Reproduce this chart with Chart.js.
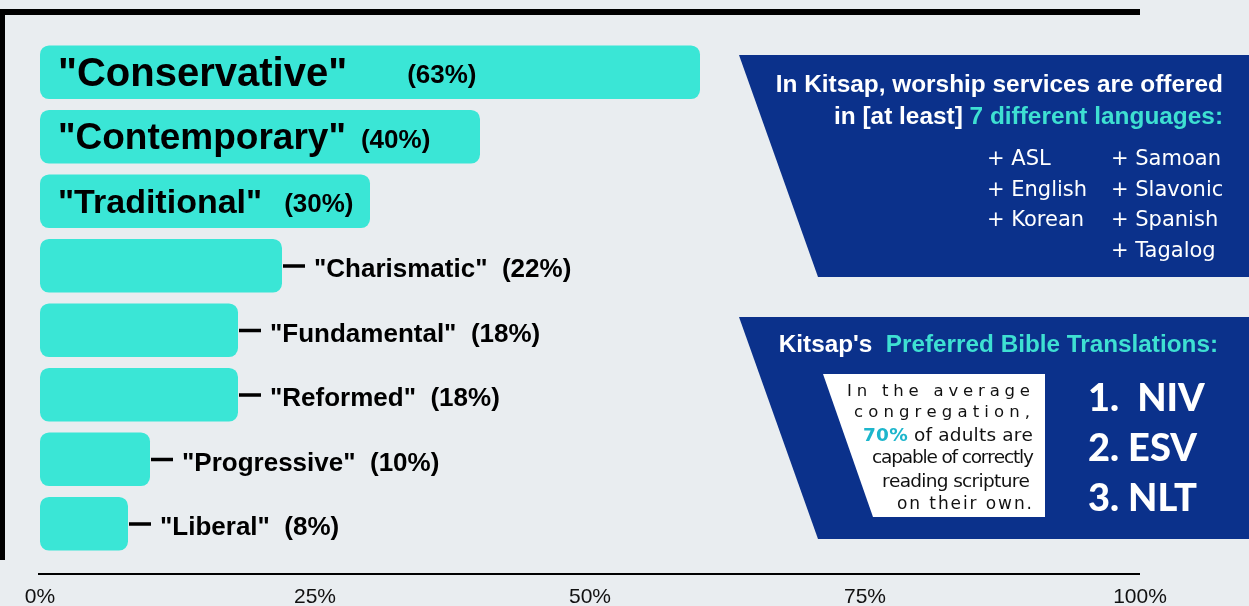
<!DOCTYPE html>
<html>
<head>
<meta charset="utf-8">
<script src="https://cdn.jsdelivr.net/npm/chart.js@4.4.1/dist/chart.umd.min.js"></script>
<style>
  html, body { margin: 0; padding: 0; background: #e9edf0; }
  canvas { display: block; }
</style>
</head>
<body>
<canvas id="styles-chart" width="1249" height="606"></canvas>
<script>
// ── DATA ──────────────────────────────────
const categories = ['"Conservative"', '"Contemporary"', '"Traditional"', '"Charismatic"',
                    '"Fundamental"', '"Reformed"', '"Progressive"', '"Liberal"'];
const barValues = [60, 40, 30, 22, 18, 18, 10, 8];
const pctLabels = ['(63%)', '(40%)', '(30%)', '(22%)', '(18%)', '(18%)', '(10%)', '(8%)'];
const xTicks = [0, 25, 50, 75, 100];

const languagesLeft = ['+ ASL', '+ English', '+ Korean'];
const languagesRight = ['+ Samoan', '+ Slavonic', '+ Spanish', '+ Tagalog'];
const translations = ['1.  NIV', '2. ESV', '3. NLT'];
const literacyLines = ['In the average', 'congregation,', '70% of adults are',
                       'capable of correctly', 'reading scripture', 'on their own.'];
const literacyHighlight = '70%';

// ── STYLE ─────────────────────────────────
const BG = '#e9edf0';
const BAR = '#3ae6d6';
const NAVY = '#0b318b';
const TEAL = '#3ee0d2';
const TEAL_DARK = '#1db6cc';
const SANS = '"Liberation Sans", Arial, sans-serif';
const WIDE = '"DejaVu Sans", "Open Sans", sans-serif';

// first three bars carry their label inside the bar
const insideLabels = [
  { size: 40, gap: 60 },
  { size: 37, gap: 15 },
  { size: 34, gap: 22 }
];

// justified lines of the white box: [left, right, baseline, font size]
const literacyLayout = [
  [847, 1030, 396, 16.5],
  [854, 1030, 417, 16.5],
  [863, 1033, 441, 18.5],
  [872, 1034, 463, 18.5],
  [882, 1030, 487, 18.5],
  [897, 1032, 509, 17]
];


// ── HELPERS ───────────────────────────────
function slantedPanel(ctx, top, bottom, leftTop, leftBottom, right, color) {
  ctx.fillStyle = color;
  ctx.beginPath();
  ctx.moveTo(leftTop, top);
  ctx.lineTo(right, top);
  ctx.lineTo(right, bottom);
  ctx.lineTo(leftBottom, bottom);
  ctx.closePath();
  ctx.fill();
}

// draw runs of text stretched (or squeezed) to fill left..right
function justifiedLine(ctx, runs, left, right, y) {
  const chars = [];
  runs.forEach(r => {
    ctx.font = r.font;
    for (const ch of r.text) chars.push({ ch, font: r.font, color: r.color, w: ctx.measureText(ch).width });
  });
  const natural = chars.reduce((a, c) => a + c.w, 0);
  const spacing = (right - left - natural) / (chars.length - 1);
  let x = left;
  ctx.textAlign = 'left';
  ctx.textBaseline = 'alphabetic';
  chars.forEach(c => {
    ctx.font = c.font;
    ctx.fillStyle = c.color;
    ctx.fillText(c.ch, x, y);
    x += c.w + spacing;
  });
}

function rightAlignedRuns(ctx, runs, right, y) {
  let x = right;
  ctx.textAlign = 'right';
  ctx.textBaseline = 'alphabetic';
  for (let i = runs.length - 1; i >= 0; i--) {
    ctx.font = runs[i].font;
    ctx.fillStyle = runs[i].color;
    ctx.fillText(runs[i].text, x, y);
    x -= ctx.measureText(runs[i].text).width;
  }
}


// ── PLUGIN: FRAME + BACKGROUND ────────────
const framePlugin = {
  id: 'frame',
  beforeDraw(chart) {
    const ctx = chart.ctx;
    ctx.save();
    ctx.fillStyle = BG;
    ctx.fillRect(0, 0, chart.width, chart.height);
    ctx.fillStyle = '#000';
    ctx.fillRect(0, 9, 1140, 6);
    ctx.fillRect(0, 9, 5, 551);
    ctx.restore();
  }
};


// ── PLUGIN: BAR LABELS + AXIS LINE ────────
const barLabelPlugin = {
  id: 'barLabels',
  afterDatasetsDraw(chart) {
    const ctx = chart.ctx;
    const meta = chart.getDatasetMeta(0);
    const xs = chart.scales.x;
    ctx.save();

    // axis baseline sits a little below the bars
    ctx.fillStyle = '#000';
    const axisY = chart.chartArea.bottom + 17;
    ctx.fillRect(xs.getPixelForValue(0) - 2, axisY, xs.getPixelForValue(100) - xs.getPixelForValue(0) + 2, 2);

    meta.data.forEach((bar, i) => {
      ctx.fillStyle = '#000';
      ctx.textAlign = 'left';
      ctx.textBaseline = 'alphabetic';
      if (i < insideLabels.length) {
        const st = insideLabels[i];
        const x0 = bar.base + 18;
        ctx.font = `bold ${st.size}px ${SANS}`;
        ctx.fillText(categories[i], x0, bar.y + st.size * 0.34);
        const nameW = ctx.measureText(categories[i]).width;
        ctx.font = `bold 26px ${SANS}`;
        ctx.fillText(pctLabels[i], x0 + nameW + st.gap, bar.y + 26 * 0.42);
      } else {
        ctx.fillRect(bar.x + 1, bar.y - 1.5, 22, 3.5);
        ctx.font = `bold 26px ${SANS}`;
        ctx.fillText(categories[i] + '  ' + pctLabels[i], bar.x + 32, bar.y + 26 * 0.44);
      }
    });
    ctx.restore();
  }
};


// ── PLUGIN: SIDE PANELS ───────────────────
const panelPlugin = {
  id: 'panels',
  afterDraw(chart) {
    const ctx = chart.ctx;
    const W = chart.width;
    ctx.save();

    // panel 1: languages
    slantedPanel(ctx, 55, 277, 739, 818, W, NAVY);
    ctx.font = `bold 24.4px ${SANS}`;
    ctx.fillStyle = '#fff';
    ctx.textAlign = 'right';
    ctx.fillText('In Kitsap, worship services are offered', 1223, 92);
    rightAlignedRuns(ctx, [
      { text: 'in [at least] ', font: `bold 24.4px ${SANS}`, color: '#fff' },
      { text: '7 different languages:', font: `bold 24.4px ${SANS}`, color: TEAL }
    ], 1223, 124);

    ctx.font = `21px ${WIDE}`;
    ctx.fillStyle = '#fff';
    ctx.textAlign = 'left';
    languagesLeft.forEach((t, i) => ctx.fillText(t, 987, 165 + i * 30.7));
    languagesRight.forEach((t, i) => ctx.fillText(t, 1111, 165 + i * 30.7));

    // panel 2: bible translations
    slantedPanel(ctx, 317, 539, 739, 818, W, NAVY);
    rightAlignedRuns(ctx, [
      { text: "Kitsap's  ", font: `bold 24.3px ${SANS}`, color: '#fff' },
      { text: 'Preferred Bible Translations:', font: `bold 24.3px ${SANS}`, color: TEAL }
    ], 1218, 352);

    slantedPanel(ctx, 374, 517, 823, 873, 1045, '#fff');
    literacyLines.forEach((line, i) => {
      const [left, right, y, size] = literacyLayout[i];
      const runs = [];
      if (line.startsWith(literacyHighlight)) {
        runs.push({ text: literacyHighlight, font: `bold ${size}px ${WIDE}`, color: TEAL_DARK });
        runs.push({ text: line.slice(literacyHighlight.length), font: `${size}px ${WIDE}`, color: '#111' });
      } else {
        runs.push({ text: line, font: `${size}px ${WIDE}`, color: '#111' });
      }
      justifiedLine(ctx, runs, left, right, y);
    });

    ctx.font = `900 38px Lato, ${SANS}`;
    ctx.fillStyle = '#fff';
    ctx.textAlign = 'left';
    translations.forEach((t, i) => ctx.fillText(t, 1088, 411 + i * 50));

    ctx.restore();
  }
};


// ── CHART ─────────────────────────────────
new Chart(document.getElementById('styles-chart'), {
  type: 'bar',
  data: {
    labels: categories,
    datasets: [{
      data: barValues,
      backgroundColor: BAR,
      borderRadius: 9,
      borderSkipped: false,
      barPercentage: 0.83,
      categoryPercentage: 1
    }]
  },
  options: {
    indexAxis: 'y',
    responsive: false,
    devicePixelRatio: 1,
    animation: false,
    layout: { padding: { left: 40, right: 109, top: 40, bottom: 0 } },
    plugins: {
      legend: { display: false },
      tooltip: { enabled: false }
    },
    scales: {
      x: {
        min: 0,
        max: 100,
        afterBuildTicks: (s) => { s.ticks = xTicks.map(v => ({ value: v })); },
        afterFit: (s) => { s.height = 50; },
        // invisible tick marks push the labels down without widening the side padding
        grid: { display: false, drawTicks: true, tickLength: 29 },
        border: { display: false },
        ticks: {
          padding: 0,
          color: '#111',
          font: { family: SANS, size: 21 },
          maxRotation: 0,
          autoSkip: false,
          callback: (v) => v + '%'
        }
      },
      y: {
        display: false
      }
    }
  },
  plugins: [framePlugin, barLabelPlugin, panelPlugin]
});
</script>
</body>
</html>
